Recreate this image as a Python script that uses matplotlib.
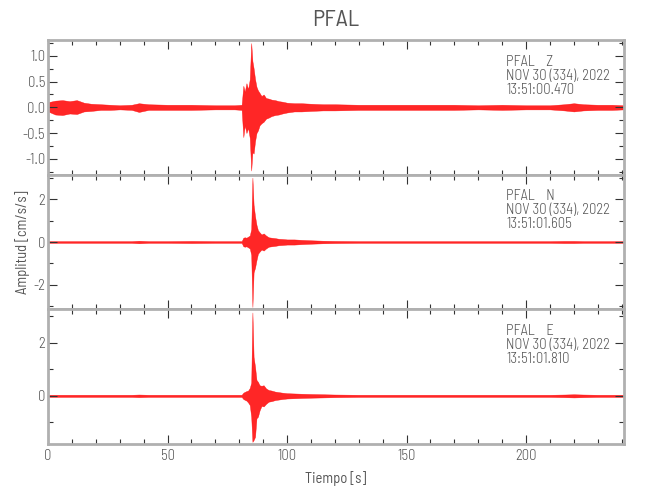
import matplotlib
matplotlib.use("Agg")
import matplotlib.pyplot as plt
from matplotlib.ticker import MultipleLocator, FormatStrFormatter

plt.rcParams['font.family'] = ['Barlow Semi Condensed', 'Barlow Condensed', 'DejaVu Sans']
plt.rcParams['font.weight'] = 300

t = [0, 3, 6, 9, 12, 15, 18, 22, 26, 30,
     35, 38, 42, 50, 60, 70, 78, 81,
     81.7, 82.3, 83, 83.7, 84.4, 85.0, 85.5, 86.0, 86.6, 87.2,
     87.8, 88.5, 89.3, 90.2, 91.2, 92.3, 93.5, 95, 96.5, 98,
     100, 103, 106, 110, 115, 120, 130, 140, 150, 160,
     170, 180, 190, 200, 210, 216, 220, 224, 230, 236,
     241]

z_hi = [0.10, 0.13, 0.14, 0.12, 0.14, 0.09, 0.07, 0.06, 0.05, 0.04,
        0.05, 0.08, 0.06, 0.05, 0.05, 0.04, 0.04, 0.05,
        0.42, 0.30, 0.47, 0.35, 0.55, 1.25, 0.90, 0.76, 0.55, 0.40,
        0.33, 0.28, 0.22, 0.25, 0.18, 0.17, 0.15, 0.14, 0.12, 0.11,
        0.09, 0.08, 0.08, 0.07, 0.06, 0.06, 0.05, 0.05, 0.05, 0.05,
        0.05, 0.04, 0.05, 0.04, 0.04, 0.06, 0.08, 0.06, 0.05, 0.05,
        0.04]
z_lo = [-0.08, -0.14, -0.15, -0.12, -0.13, -0.08, -0.07, -0.05, -0.05, -0.04,
        -0.05, -0.09, -0.05, -0.05, -0.05, -0.04, -0.04, -0.05,
        -0.58, -0.35, -0.50, -0.40, -0.60, -1.23, -0.87, -0.90, -0.66, -0.50,
        -0.45, -0.35, -0.31, -0.28, -0.22, -0.20, -0.17, -0.15, -0.14, -0.12,
        -0.10, -0.08, -0.08, -0.07, -0.06, -0.06, -0.05, -0.05, -0.05, -0.05,
        -0.05, -0.04, -0.05, -0.04, -0.04, -0.06, -0.08, -0.06, -0.05, -0.05,
        -0.04]

n_hi = [0.04, 0.04, 0.04, 0.04, 0.04, 0.04, 0.04, 0.04, 0.04, 0.04,
        0.04, 0.06, 0.04, 0.04, 0.05, 0.04, 0.04, 0.04,
        0.20, 0.22, 0.20, 0.25, 0.30, 0.60, 3.00, 1.73, 1.20, 0.80,
        0.55, 0.45, 0.35, 0.40, 0.30, 0.22, 0.20, 0.18, 0.15, 0.14,
        0.12, 0.12, 0.10, 0.08, 0.06, 0.05, 0.04, 0.04, 0.04, 0.04,
        0.04, 0.04, 0.04, 0.04, 0.04, 0.05, 0.05, 0.04, 0.04, 0.04,
        0.04]
n_lo = [-0.04, -0.04, -0.04, -0.04, -0.04, -0.04, -0.04, -0.04, -0.04, -0.04,
        -0.04, -0.06, -0.04, -0.04, -0.05, -0.04, -0.04, -0.04,
        -0.20, -0.22, -0.20, -0.25, -0.30, -0.60, -3.03, -1.42, -1.20, -0.85,
        -0.55, -0.45, -0.35, -0.40, -0.30, -0.22, -0.20, -0.18, -0.15, -0.14,
        -0.12, -0.12, -0.10, -0.08, -0.06, -0.05, -0.04, -0.04, -0.04, -0.04,
        -0.04, -0.04, -0.04, -0.04, -0.04, -0.05, -0.05, -0.04, -0.04, -0.04,
        -0.04]

e_hi = [0.04, 0.04, 0.04, 0.04, 0.04, 0.04, 0.04, 0.04, 0.04, 0.04,
        0.04, 0.05, 0.04, 0.04, 0.04, 0.04, 0.04, 0.04,
        0.12, 0.15, 0.18, 0.20, 0.30, 0.50, 3.15, 1.47, 1.10, 0.60,
        0.53, 0.40, 0.38, 0.40, 0.28, 0.22, 0.20, 0.16, 0.14, 0.12,
        0.10, 0.09, 0.08, 0.07, 0.06, 0.05, 0.04, 0.04, 0.04, 0.04,
        0.04, 0.04, 0.04, 0.04, 0.04, 0.05, 0.06, 0.05, 0.04, 0.04,
        0.04]
e_lo = [-0.04, -0.04, -0.04, -0.04, -0.04, -0.04, -0.04, -0.04, -0.04, -0.04,
        -0.04, -0.05, -0.04, -0.04, -0.04, -0.04, -0.04, -0.04,
        -0.12, -0.15, -0.18, -0.25, -0.35, -0.80, -1.74, -1.67, -1.55, -0.85,
        -0.79, -0.55, -0.38, -0.40, -0.30, -0.22, -0.20, -0.16, -0.14, -0.12,
        -0.10, -0.09, -0.08, -0.07, -0.06, -0.05, -0.04, -0.04, -0.04, -0.04,
        -0.04, -0.04, -0.04, -0.04, -0.04, -0.05, -0.06, -0.05, -0.04, -0.04,
        -0.04]

components = ["Z", "N", "E"]
start_times = ["13:51:00.470", "13:51:01.605", "13:51:01.810"]
ylims = [(-1.31, 1.31), (-3.14, 3.14), (-1.82, 3.27)]
traces = [(z_hi, z_lo), (n_hi, n_lo), (e_hi, e_lo)]

gray = "#555555"
fig = plt.figure(figsize=(6.5, 5), dpi=100)
fig.subplots_adjust(left=0.074, right=0.96, top=0.92, bottom=0.112, hspace=0)
axes = fig.subplots(3, 1, sharex=True)

for i, ax in enumerate(axes):
    hi, lo = traces[i]
    ax.fill_between(t, lo, hi, color="red", lw=0.3, edgecolor="red", alpha=0.85)
    ax.set_xlim(0, 241)
    ax.set_ylim(*ylims[i])
    ax.xaxis.set_major_locator(MultipleLocator(50))
    ax.xaxis.set_minor_locator(MultipleLocator(10))
    if i == 0:
        ax.yaxis.set_major_locator(MultipleLocator(0.5))
        ax.yaxis.set_minor_locator(MultipleLocator(0.25))
        ax.yaxis.set_major_formatter(FormatStrFormatter("%.1f"))
    else:
        ax.yaxis.set_major_locator(MultipleLocator(2))
        ax.yaxis.set_minor_locator(MultipleLocator(1))
        ax.yaxis.set_major_formatter(FormatStrFormatter("%d"))
    ax.tick_params(which="both", direction="in", top=True, right=True,
                   color="#333333", labelcolor=gray, labelsize=10.5, width=0.8)
    ax.tick_params(which="major", length=6.5)
    ax.tick_params(which="minor", length=3.5)
    ax.tick_params(axis="y", pad=2)
    for sp in ax.spines.values():
        sp.set_color("#b0b0b0")
        sp.set_linewidth(2)
    ax.text(0.795, 0.89, "PFAL    %s\nNOV 30 (334), 2022\n%s" % (components[i], start_times[i]),
            transform=ax.transAxes, ha="left", va="top", fontsize=10.5,
            color=gray, linespacing=1.0)

axes[0].set_title("PFAL", fontsize=17, color=gray, pad=10)
axes[1].set_ylabel("Amplitud [cm/s/s]", fontsize=10.5, color=gray)
axes[1].yaxis.set_label_coords(-0.032, 0.5)
axes[2].set_xlabel("Tiempo [s]", fontsize=10.5, color=gray, labelpad=6)

fig.savefig("out.png", dpi=100)
